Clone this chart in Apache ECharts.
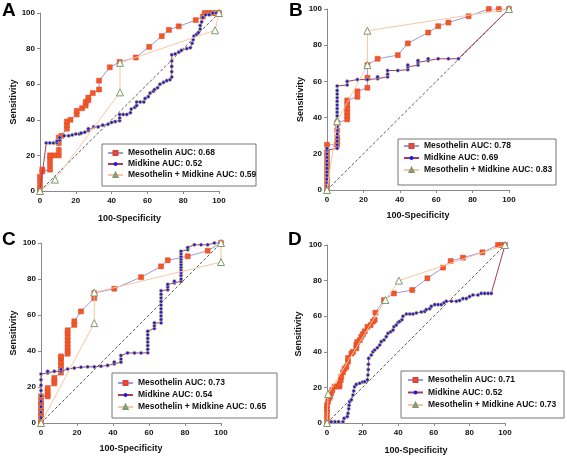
<!DOCTYPE html>
<html><head><meta charset="utf-8">
<script src="https://cdn.jsdelivr.net/npm/echarts/dist/echarts.min.js"></script>
<style>html,body{margin:0;padding:0;background:#fff}#c{width:567px;height:457px}</style>
</head><body><div id="c"></div><script>
// ---------- DATA ----------
const seriesNames = ['Mesothelin', 'Midkine', 'Mesothelin + Midkine'];
const aucA = ['0.68', '0.52', '0.59'];
const aucB = ['0.78', '0.69', '0.83'];
const aucC = ['0.73', '0.54', '0.65'];
const aucD = ['0.71', '0.52', '0.73'];
const axisTicks = [0, 20, 40, 60, 80, 100];
const diagonal = [[0,0],[100,100]];

const aMeso = [[0,0],[0,2],[0,5],[0,8],[1.3,11],[1.3,12],[5.6,12],[5.6,15],[5.6,18],[5.6,20],[8,20],[10.5,20],[10.5,23],[10.5,27],[10.5,30],[12,31],[15,35],[15,37],[15,39],[17,40],[20.5,43],[20.5,45],[23.5,46.5],[25.5,48],[25.5,50],[27,51],[27,52.5],[29.5,55],[33,57],[33,62],[39,69.5],[44.5,72.5],[53.5,75],[61,81],[68,87],[72,90.5],[77.5,92.5],[87,96],[91,98],[92,100],[94,100],[96,100],[98,100],[100,100]];
const aMid = [[0,0],[3.5,27],[5.5,27],[7.5,27],[9.5,27],[9.5,28],[11,28.5],[11,30],[13.5,31],[16,31],[18,31.5],[20,32],[22,32],[23,32.5],[25,33],[27,34],[27,35],[30,36],[32.5,36],[35,37],[38,37.5],[40,38.5],[42,39],[44.5,39.5],[44.5,41],[44.5,43],[46.5,43],[48.5,43],[50.5,44],[51,46],[53,47],[54,48],[54,50],[56,50],[58,50],[58.7,52],[60.5,53],[61.5,55],[63.3,56],[64,57],[65.7,58],[67,60],[69,61],[70.8,62],[72.6,62.5],[73.6,64],[73.6,67],[73.6,70],[73.6,73],[73.6,76.5],[75.5,77],[77.5,78],[79,79],[82,80],[84,80.5],[85,83],[85.6,85],[86,87],[87.5,88],[88.5,89],[89.5,91],[89.5,93],[90.3,95],[91,97.5],[92.5,99],[94.5,99],[96.5,100],[98.5,100],[100,100]];
const aCombo = [[0,0],[8.4,6.4],[44.7,55.4],[44.7,72],[97.8,90.3],[100,100]];

const bMeso = [[0,0],[0,3],[0,6],[0,9],[0,12],[0,15],[0,18],[0,21],[0,25],[5.6,25],[5.6,27],[5.6,29],[5.6,33],[5.6,37],[11.1,39],[11.1,41],[11.1,43],[11.1,45],[11.1,47],[11.1,49.5],[16.7,51.5],[16.7,54.5],[22.2,56.5],[22.2,62],[22.2,69],[27.8,72.5],[38.9,74.5],[44.4,81],[55.6,87],[61.1,90.5],[66.7,92.5],[77.8,96],[88.9,100],[94.4,100],[100,100]];
const bMid = [[0,0],[0,2],[0,4],[0,6],[0,8],[0,10],[0,12],[0,14],[0,16],[0,18],[0,20],[0,22],[0,23],[5.6,23],[5.6,25],[5.6,27],[5.6,29],[5.6,31],[5.6,33],[5.6,35],[5.6,37],[5.6,39],[5.6,41],[5.6,43],[5.6,45],[5.6,47],[5.6,49],[5.6,51],[5.6,53],[5.6,55],[5.6,57.5],[11.1,58],[11.1,60],[16.7,61],[22.2,61],[27.8,61.5],[27.8,62.5],[33.3,62.5],[33.3,64],[33.3,66],[38.9,66],[44.4,66.5],[44.4,68],[44.4,69],[50,69],[50,70.5],[50,71.5],[55.6,71.5],[55.6,72.5],[61.1,72.5],[66.7,72.5],[72.2,72.5],[100,100]];
const bCombo = [[0,0],[5.6,38],[22.2,69],[22.2,88],[100,100]];

const cMeso = [[0,0],[0,2],[0,4],[0,6],[0,8],[0,10],[0,12],[0,14.8],[3.7,14.8],[3.7,16],[3.7,17.6],[3.7,19.4],[7.4,22],[7.4,23.5],[7.4,25],[11.1,28],[11.1,30],[11.1,32],[11.1,34],[11.1,36],[11.1,37],[14.8,38.5],[14.8,40],[14.8,42],[14.8,44],[14.8,46],[14.8,48],[14.8,50],[14.8,51.5],[18.5,54.5],[18.5,56.5],[22.2,62],[29.6,69.4],[29.6,72.2],[40.7,74.6],[55.6,81],[66.7,87],[70.4,90.4],[81.5,92.6],[92.6,95.7],[100,100]];
const cMid = [[0,0],[0,3],[0,6],[0,9],[0,12],[0,15],[0,18],[0,21],[0,24],[0,27.2],[3.7,27.8],[3.7,28.7],[7.4,28.7],[11.1,28.7],[11.1,29.8],[14.8,30],[18.5,30.5],[22.2,31],[25.9,31.2],[29.6,31.2],[33.3,31.5],[37,32],[40.7,32.8],[40.7,33.8],[44.4,33.8],[44.4,35.5],[44.4,37.5],[48.1,38.9],[51.9,38.9],[55.6,38.9],[59.3,39],[59.3,41],[59.3,43],[59.3,45],[59.3,47],[59.3,49],[59.3,51],[63,52.5],[63,54],[63,55.6],[66.7,55.6],[66.7,57.5],[66.7,59.5],[66.7,61.5],[66.7,63.5],[66.7,65.5],[66.7,67.5],[66.7,69.5],[66.7,71.5],[66.7,73.5],[70.4,74],[70.4,75.5],[70.4,77],[74.1,77.8],[74.1,78.7],[77.8,78.7],[77.8,80],[77.8,82],[77.8,83.5],[77.8,85],[77.8,86.5],[77.8,88],[77.8,89.5],[77.8,91],[77.8,92.5],[77.8,94],[77.8,95.4],[81.5,96.3],[81.5,97.5],[85.2,99],[88.9,99],[92.6,99],[96.3,100],[100,100]];
const cCombo = [[0,0],[29.6,55.5],[29.6,72.5],[100,89.4],[100,100]];

const dMeso = [[0,0],[0,3],[0,6],[0,8],[0,10],[0.6,12],[1.2,14],[1.8,15],[2.4,17],[3,18.5],[4.3,20.5],[5.5,20.5],[7,20.5],[7,22],[7.7,24],[8,26],[9,28.5],[9.9,30.5],[10.9,31.5],[11.8,34.5],[11.8,36.5],[13.7,39],[14.6,40],[16.5,42],[16.5,44],[17,45.5],[18.4,46.5],[19.3,48.5],[20.2,50],[21.2,51.5],[22.7,54],[24.5,55],[25.8,57],[26.8,58],[27.2,62],[32,69],[37.6,72.8],[47.9,74.7],[56.4,81.3],[65.2,87.3],[69.5,91],[76.4,92.9],[87.3,95.9],[96.1,100],[98.3,100],[100,100]];
const dMid = [[0,0],[2.4,0.7],[4.5,0.7],[6.5,0.7],[9,0.7],[9.6,2.6],[11.4,3.6],[11.8,5.4],[12.2,8],[12.4,10],[12.7,12],[13.7,13],[14.6,15.7],[15,18],[15.5,20.4],[16.5,21.7],[18.4,22.3],[20,23],[21.2,23.2],[22.7,24.2],[23,27],[23.2,30],[23.3,33],[23.4,36.3],[24.9,38.2],[25.8,40],[26.8,41],[28.3,42.3],[29.6,43.8],[30.5,45.7],[32,46.6],[33.3,48.5],[34.3,50.4],[35.8,51.3],[37.1,52.2],[37.6,54.1],[38.9,55],[39.9,56.5],[40.8,57],[42.1,58],[42.7,60],[44.6,61.2],[46.5,61.2],[48.3,61.2],[50.2,61.8],[53,62.4],[54.9,62.7],[55.8,63.7],[57.7,64.2],[58.6,65.5],[60.5,66.5],[62.4,66.5],[64.2,66.5],[65.7,67.5],[67,68.4],[69.9,68.4],[72.7,68.4],[74.5,68.8],[76.4,69.9],[78.3,69.9],[80.1,71],[82,71.9],[84.8,71.9],[86.7,72.8],[88.6,72.8],[90.5,72.8],[92.3,72.8],[100,100]];
const dCombo = [[0,0],[0.6,16.3],[32.8,69.1],[40.4,80],[100,100]];

// ---------- LAYOUT ----------
const FONT = '"Liberation Sans", Arial, sans-serif';
const panels = [
  {letter:'A', lx:2, ly:1, grid:{left:40, top:13, width:179, height:178}, yGap:22, xGap:23,
   box:[102,144,154,42], legLeft:107, legTop:148.5, legGap:2, auc:aucA, data:[aMeso,aMid,aCombo]},
  {letter:'B', lx:289, ly:1, grid:{left:327, top:9, width:182, height:181}, yGap:21, xGap:21,
   box:[398,139,158,46], legLeft:403, legTop:141.5, legGap:3, auc:aucB, data:[bMeso,bMid,bCombo]},
  {letter:'C', lx:2, ly:230, grid:{left:41, top:243, width:180, height:180}, yGap:23, xGap:21.5,
   box:[112,373,165,45], legLeft:117, legTop:378.5, legGap:3, auc:aucC, data:[cMeso,cMid,cCombo]},
  {letter:'D', lx:288, ly:230, grid:{left:327, top:245, width:178, height:178}, yGap:23.5, xGap:23.5,
   box:[401,371,163,47], legLeft:407, legTop:375.5, legGap:3.5, auc:aucD, data:[dMeso,dMid,dCombo]}
];

const styles = [
  {symbol:'rect', symbolSize:5, lineStyle:{color:'#9a9ade', width:1}, itemStyle:{color:'#f4571f', borderColor:'#d8463a', borderWidth:0.5}},
  {symbol:'circle', symbolSize:3.6, lineStyle:{color:'#a83a62', width:1}, itemStyle:{color:'#1b1be6', borderColor:'#e2c64a', borderWidth:0.6}},
  {symbol:'triangle', symbolSize:7, lineStyle:{color:'#f8c6a0', width:1}, itemStyle:{color:'#fffff4', borderColor:'#7d9c74', borderWidth:1}}
];
const legendItemStyles = [{}, {borderWidth:0}, {}];
const drawOrder = [1, 0, 2];

const axisCommon = {
  type:'value', min:0, max:100, interval:20,
  nameLocation:'middle',
  nameTextStyle:{fontWeight:'bold', fontSize:9, color:'#111', fontFamily:FONT},
  axisLine:{lineStyle:{color:'#8a8a8a', width:1}},
  axisTick:{length:3, lineStyle:{color:'#8a8a8a'}},
  axisLabel:{fontSize:8, fontWeight:'bold', color:'#111', fontFamily:FONT, margin:5,
             formatter: v => axisTicks.includes(v) ? String(v) : ''},
  splitLine:{show:false}
};

const grid = [], xAxis = [], yAxis = [], series = [], legend = [], graphic = [];
panels.forEach((p, i) => {
  grid.push(Object.assign({containLabel:false}, p.grid));
  xAxis.push(Object.assign({}, axisCommon, {gridIndex:i, name:'100-Specificity', nameGap:p.xGap,
    axisLabel:Object.assign({}, axisCommon.axisLabel, {margin:6})}));
  yAxis.push(Object.assign({}, axisCommon, {gridIndex:i, name:'Sensitivity', nameGap:p.yGap}));
  series.push({type:'line', xAxisIndex:i, yAxisIndex:i, data:diagonal, symbol:'none', silent:true,
    lineStyle:{color:'#333', width:0.8, type:[3,2]}, z:1});
  const names = seriesNames.map((n, k) => n + ' AUC: ' + p.auc[k]);
  drawOrder.forEach(k => {
    series.push(Object.assign({type:'line', name:names[k], xAxisIndex:i, yAxisIndex:i,
      data:p.data[k], showSymbol:true, z:2+k}, styles[k]));
  });
  legend.push({left:p.legLeft, top:p.legTop, orient:'vertical',
    data:names.map((n, k) => ({name:n, itemStyle:legendItemStyles[k]})), selectedMode:false,
    itemWidth:15, itemHeight:5, itemGap:p.legGap, padding:0,
    textStyle:{fontSize:8.5, fontWeight:'bold', color:'#111', fontFamily:FONT, lineHeight:9, height:9}});
  graphic.push({type:'rect', shape:{x:p.box[0], y:p.box[1], width:p.box[2], height:p.box[3]},
    style:{fill:'none', stroke:'#777', lineWidth:1}, z:0});
  graphic.push({type:'text', left:p.lx, top:p.ly,
    style:{text:p.letter, font:'bold 19px ' + FONT, fill:'#000'}});
});

const chart = echarts.init(document.getElementById('c'), null, {renderer:'canvas'});
chart.setOption({animation:false, backgroundColor:'#fff', grid, xAxis, yAxis, series, legend, graphic});
</script></body></html>
